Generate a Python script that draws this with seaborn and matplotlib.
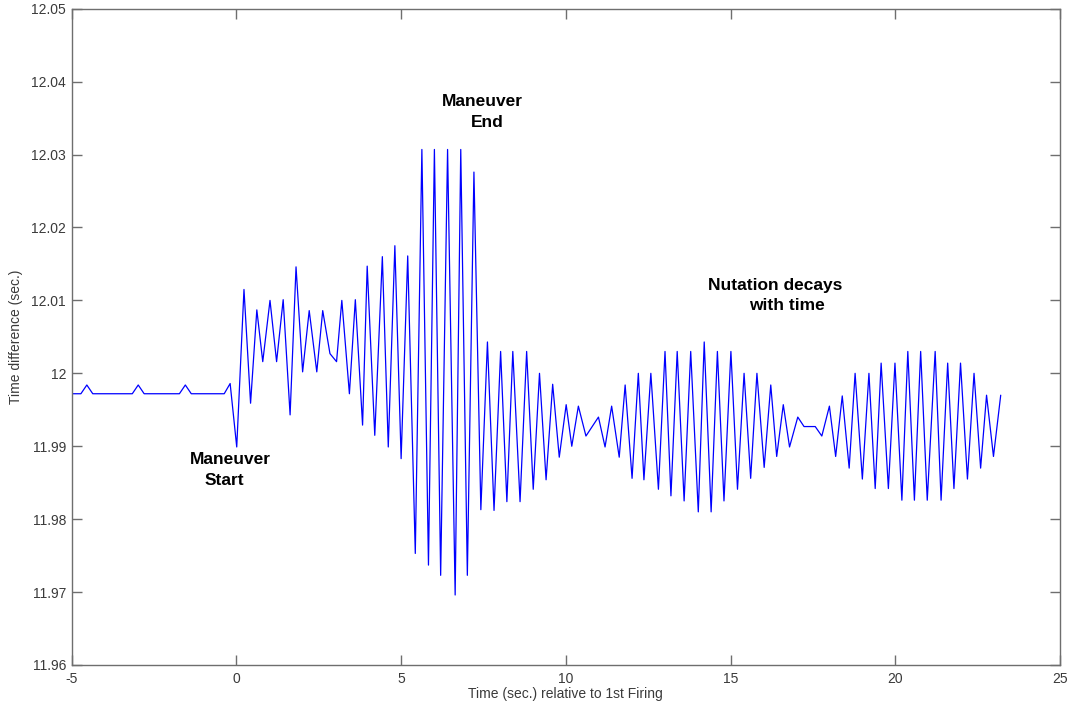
import matplotlib
matplotlib.use("Agg")
import matplotlib.pyplot as plt
import matplotlib.ticker as mticker
import numpy as np
import pandas as pd
import seaborn as sns

# ------------------------------------------------------------------------------
# Sampled time difference (read off the plot)
# ------------------------------------------------------------------------------
time_sec = [
    -5.00, -4.72, -4.54, -4.36, -3.16, -2.98, -2.80, -1.73, -1.55, -1.37,
    -0.37, -0.19, 0.01,
    0.23, 0.43, 0.62, 0.80, 1.02, 1.22, 1.42, 1.63, 1.81, 2.01,
    2.21, 2.44, 2.62, 2.84, 3.04, 3.20, 3.43, 3.61, 3.83, 3.97,
    4.20, 4.43, 4.61, 4.81, 5.00, 5.20, 5.43, 5.63, 5.83, 6.01,
    6.20, 6.41, 6.64, 6.81, 7.01, 7.21, 7.42, 7.62, 7.82, 8.02,
    8.21, 8.39, 8.61, 8.81, 9.01, 9.20, 9.40, 9.60, 9.80, 10.01,
    10.18, 10.38, 10.61, 10.99, 11.19, 11.39, 11.62, 11.80, 12.01, 12.20,
    12.37, 12.58, 12.81, 13.01, 13.19, 13.38, 13.59, 13.79, 14.02, 14.20,
    14.41, 14.60, 14.80, 15.01, 15.21, 15.41, 15.61, 15.80, 16.02, 16.22,
    16.40, 16.60, 16.79, 17.04, 17.23, 17.57, 17.77, 18.00, 18.19, 18.39,
    18.60, 18.78, 19.00, 19.20, 19.39, 19.57, 19.79, 19.99, 20.20, 20.38,
    20.58, 20.77, 20.97, 21.21, 21.39, 21.59, 21.78, 21.98, 22.19, 22.39,
    22.59, 22.77, 22.98, 23.20,
]
time_diff = [
    11.9972, 11.9972, 11.9984, 11.9972, 11.9972, 11.9984, 11.9972, 11.9972, 11.9984, 11.9972,
    11.9972, 11.9986, 11.9899,
    12.0115, 11.9959, 12.0087, 12.0016, 12.0100, 12.0016, 12.0101, 11.9943, 12.0146, 12.0002,
    12.0086, 12.0002, 12.0086, 12.0027, 12.0016, 12.0100, 11.9972, 12.0101, 11.9929, 12.0147,
    11.9915, 12.0160, 11.9899, 12.0175, 11.9883, 12.0161, 11.9753, 12.0307, 11.9737, 12.0307,
    11.9723, 12.0307, 11.9696, 12.0307, 11.9723, 12.0276, 11.9813, 12.0043, 11.9812, 12.0030,
    11.9824, 12.0030, 11.9824, 12.0030, 11.9841, 12.0000, 11.9854, 11.9985, 11.9885, 11.9957,
    11.9900, 11.9955, 11.9914, 11.9940, 11.9899, 11.9955, 11.9885, 11.9984, 11.9856, 12.0000,
    11.9854, 12.0000, 11.9841, 12.0030, 11.9832, 12.0030, 11.9825, 12.0030, 11.9810, 12.0043,
    11.9810, 12.0030, 11.9825, 12.0030, 11.9841, 12.0000, 11.9856, 12.0000, 11.9871, 11.9984,
    11.9886, 11.9957, 11.9899, 11.9940, 11.9927, 11.9927, 11.9914, 11.9955, 11.9886, 11.9969,
    11.9870, 12.0000, 11.9855, 12.0000, 11.9842, 12.0014, 11.9842, 12.0014, 11.9826, 12.0030,
    11.9826, 12.0030, 11.9826, 12.0030, 11.9826, 12.0014, 11.9842, 12.0014, 11.9855, 12.0000,
    11.9870, 11.9970, 11.9886, 11.9970,
]

x_ticks = [-5, 0, 5, 10, 15, 20, 25]
y_ticks = [11.96, 11.97, 11.98, 11.99, 12.00, 12.01, 12.02, 12.03, 12.04, 12.05]

df = pd.DataFrame({"t": time_sec, "dt": time_diff})

# ------------------------------------------------------------------------------
# Plot
# ------------------------------------------------------------------------------
sns.set_theme(style="white")
plt.rcParams["font.family"] = ["Liberation Sans", "DejaVu Sans"]
plt.rcParams["axes.unicode_minus"] = False

fig = plt.figure(figsize=(10.73, 7.04), dpi=100)
ax = fig.add_axes([0.0668, 0.0554, 0.9211, 0.9322])

sns.lineplot(data=df, x="t", y="dt", sort=False, estimator=None,
             color="#0000ff", linewidth=0.9, ax=ax)

ax.set_xlim(-5, 25)
ax.set_ylim(11.96, 12.05)
ax.set_xticks(x_ticks)
ax.set_yticks(y_ticks)
ax.yaxis.set_major_formatter(mticker.FuncFormatter(lambda v, _: f"{v:g}"))

for side in ax.spines.values():
    side.set_color("#6e6e6e")
    side.set_linewidth(1.0)
ax.tick_params(direction="in", length=7, width=1.0, color="#6e6e6e",
               labelsize=10, labelcolor="#3a3a3a",
               top=True, right=True, bottom=True, left=True)
ax.tick_params(axis="y", pad=4)
ax.tick_params(axis="x", pad=5)

ax.set_xlabel("Time (sec.) relative to 1st Firing", fontsize=10,
              color="#3a3a3a", labelpad=1)
ax.set_ylabel("Time difference (sec.)", fontsize=10, color="#3a3a3a",
              labelpad=6)

# annotations
note = dict(fontsize=12.5, fontweight="bold", color="black",
            ha="center", va="center")
ax.text(-0.18, 11.98825, "Maneuver", **note)
ax.text(-0.36, 11.98537, "Start", **note)
ax.text(7.46, 12.03734, "Maneuver", **note)
ax.text(7.61, 12.03446, "End", **note)
ax.text(16.35, 12.01204, "Nutation decays", **note)
ax.text(16.72, 12.00930, "with time", **note)

fig.savefig("out.png", dpi=100)
